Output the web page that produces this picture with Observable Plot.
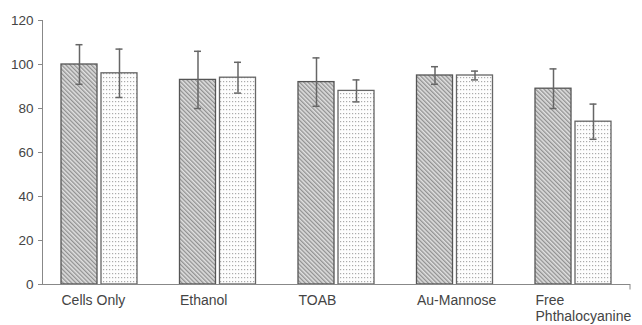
<!DOCTYPE html>
<html><head><meta charset="utf-8">
<script src="https://cdn.jsdelivr.net/npm/d3@7"></script>
<script src="https://cdn.jsdelivr.net/npm/@observablehq/plot@0.6"></script>
<style>
body{margin:0;background:#fff}
svg{font-family:Arial,"Liberation Sans",sans-serif}
g[aria-label="y-axis tick"]{stroke:#888}
</style>
</head><body><div id="chart"></div>
<script>
const categories = ["Cells Only","Ethanol","TOAB","Au-Mannose","Free Phthalocyanine"];
const tickLabels = ["Cells Only","Ethanol","TOAB","Au-Mannose","Free\nPhthalocyanine"];
const seriesA = [100, 93, 92, 95, 89];
const errA = [9, 13, 11, 4, 9];
const seriesB = [96, 94, 88, 95, 74];
const errB = [11, 7, 5, 2, 8];
const yTicks = [0, 20, 40, 60, 80, 100, 120];

const rowsA = categories.map((c, i) => ({cat: c, v: seriesA[i], e: errA[i]}));
const rowsB = categories.map((c, i) => ({cat: c, v: seriesB[i], e: errB[i]}));
const labelOf = new Map(categories.map((c, i) => [c, tickLabels[i]]));

const errStyle = {stroke: "#666", strokeWidth: 1.5};

const svg = Plot.plot({
  width: 642,
  height: 325,
  marginLeft: 42,
  marginRight: 12,
  marginTop: 20,
  marginBottom: 41,
  style: {color: "#444", background: "#fff"},
  x: {domain: categories, paddingInner: 0.3586, paddingOuter: 0.1603, round: false, label: null},
  y: {domain: [0, 120], label: null},
  marks: [
    Plot.barY(rowsA, {x: "cat", y: "v", fill: "url(#hatch)", stroke: "#555", strokeWidth: 1.3, insetRight: 40}),
    Plot.barY(rowsB, {x: "cat", y: "v", fill: "url(#dots)", stroke: "#666", strokeWidth: 1.3, insetLeft: 40}),
    Plot.ruleX(rowsA, {x: "cat", y1: d => d.v - d.e, y2: d => d.v + d.e, dx: -20, ...errStyle}),
    Plot.ruleX(rowsB, {x: "cat", y1: d => d.v - d.e, y2: d => d.v + d.e, dx: 20, ...errStyle}),
    Plot.tickY(rowsA, {x: "cat", y: d => d.v + d.e, insetLeft: 14.5, insetRight: 54.5, ...errStyle}),
    Plot.tickY(rowsA, {x: "cat", y: d => d.v - d.e, insetLeft: 14.5, insetRight: 54.5, ...errStyle}),
    Plot.tickY(rowsB, {x: "cat", y: d => d.v + d.e, insetLeft: 54.5, insetRight: 14.5, ...errStyle}),
    Plot.tickY(rowsB, {x: "cat", y: d => d.v - d.e, insetLeft: 54.5, insetRight: 14.5, ...errStyle}),
    Plot.frame({anchor: "left", stroke: "#888"}),
    Plot.ruleY([0], {stroke: "#888", strokeWidth: 1.2}),
    Plot.ruleX([categories[categories.length - 1]], {x: d => d, y1: 0, y2: -2.5, dx: 56.5, stroke: "#888"}),
    Plot.axisY({ticks: yTicks, tickSize: 4, tickPadding: 5, fontSize: 13.5, label: null}),
    Plot.axisX({tickSize: 0, tickPadding: 10, fontSize: 14, textAnchor: "start", dx: -38,
      lineAnchor: "top", lineHeight: 1.1, tickFormat: c => labelOf.get(c), label: null})
  ]
});

const defs = d3.select(svg).insert("defs", ":first-child");
const hatch = defs.append("pattern").attr("id", "hatch").attr("patternUnits", "userSpaceOnUse")
  .attr("width", 3).attr("height", 3).attr("patternTransform", "rotate(-45)");
hatch.append("rect").attr("width", 3).attr("height", 3).attr("fill", "#e0e0e0");
hatch.append("line").attr("x1", 0.75).attr("x2", 0.75).attr("y1", 0).attr("y2", 3)
  .attr("stroke", "#777").attr("stroke-width", 1);
const dots = defs.append("pattern").attr("id", "dots").attr("patternUnits", "userSpaceOnUse")
  .attr("width", 6).attr("height", 8);
dots.append("rect").attr("width", 6).attr("height", 8).attr("fill", "#fdfdfd");
for (const [px, py] of [[1, 1], [4, 1], [1, 5], [4, 5]]) {
  dots.append("rect").attr("x", px).attr("y", py).attr("width", 1.2).attr("height", 1.2).attr("fill", "#aaa");
}

document.getElementById("chart").appendChild(svg);
</script>
</body></html>
